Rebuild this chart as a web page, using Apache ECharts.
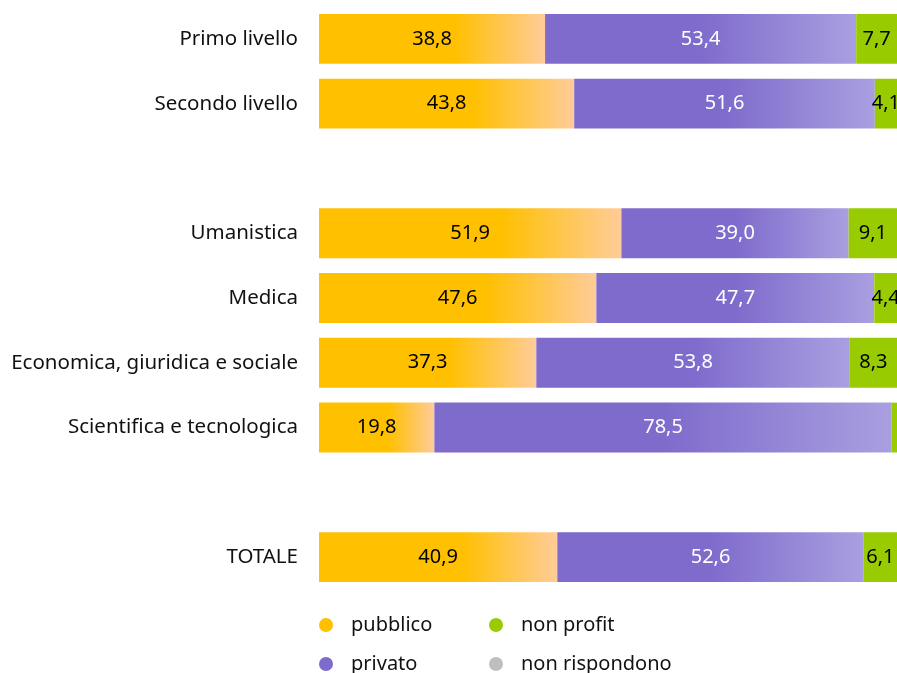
<!DOCTYPE html>
<html><head><meta charset="utf-8">
<script src="https://cdn.jsdelivr.net/npm/echarts@6/dist/echarts.min.js"></script>
<style>html,body{margin:0;padding:0;background:#fff}#c{width:897px;height:673px}</style>
</head><body><div id="c"></div>
<script>
const categories = ['Primo livello','Secondo livello','','Umanistica','Medica','Economica, giuridica e sociale','Scientifica e tecnologica','','TOTALE'];
const pubblico = [38.8, 43.8, null, 51.9, 47.6, 37.3, 19.8, null, 40.9];
const privato = [53.4, 51.6, null, 39.0, 47.7, 53.8, 78.5, null, 52.6];
const nonProfit = [7.7, 4.1, null, 9.1, 4.4, 8.3, 1.5, null, 6.1];
const nonRispondono = [0.1, 0.5, null, 0.0, 0.3, 0.6, 0.2, null, 0.4];
const seriesNames = ['pubblico','privato','non profit','non rispondono'];
const seriesColors = ['#FFC000','#7F6BCC','#99CC00','#BFBFBF'];

const FONT = 'Noto Sans';
const chart = echarts.init(document.getElementById('c'));
function fmt(p){ return (p.value==null || p.value < 2) ? '' : p.value.toFixed(1).replace('.', ','); }
function grad(c1, c2, stop){
  return new echarts.graphic.LinearGradient(0,0,1,0,[{offset:0,color:c1},{offset:stop,color:c1},{offset:1,color:c2}]);
}
function bar(name, data, color, labelColor){
  return {name, type:'bar', stack:'t', data, barCategoryGap:'23%', itemStyle:{color},
    label:{show:true, position:'inside', color:labelColor, fontFamily:FONT, fontSize:20, formatter:fmt, padding:[3,0,0,0]},
    emphasis:{disabled:true}, animation:false};
}
function legend(i, left, top){
  return {data:[{name:seriesNames[i], itemStyle:{color:seriesColors[i]}}], left, top, padding:0, orient:'horizontal', icon:'circle', itemWidth:14, itemHeight:14,
    textStyle:{fontFamily:FONT, fontSize:20, color:'#111', padding:[0,0,0,13]}, selectedMode:false};
}
chart.setOption({
  animation:false,
  color:seriesColors,
  grid:{left:319, top:6.5, height:583, right:0, containLabel:false},
  xAxis:{type:'value', min:0, max:99.2, show:false},
  yAxis:{type:'category', data:categories, inverse:true, axisLine:{show:false}, axisTick:{show:false},
    axisLabel:{margin:21, fontFamily:FONT, fontSize:20.5, color:'#111', padding:[4,0,0,0]}},
  legend:[legend(0,319,615), legend(2,489,615), legend(1,319,654), legend(3,489,654)],
  series:[
    bar(seriesNames[0], pubblico, grad('#FFC000','#FFCC99',0.6), '#000'),
    bar(seriesNames[1], privato, grad('#7F6BCC','#A99FE0',0.5), '#fff'),
    bar(seriesNames[2], nonProfit, '#99CC00', '#000'),
    bar(seriesNames[3], nonRispondono, '#BFBFBF', '#000')
  ]
});
</script></body></html>
